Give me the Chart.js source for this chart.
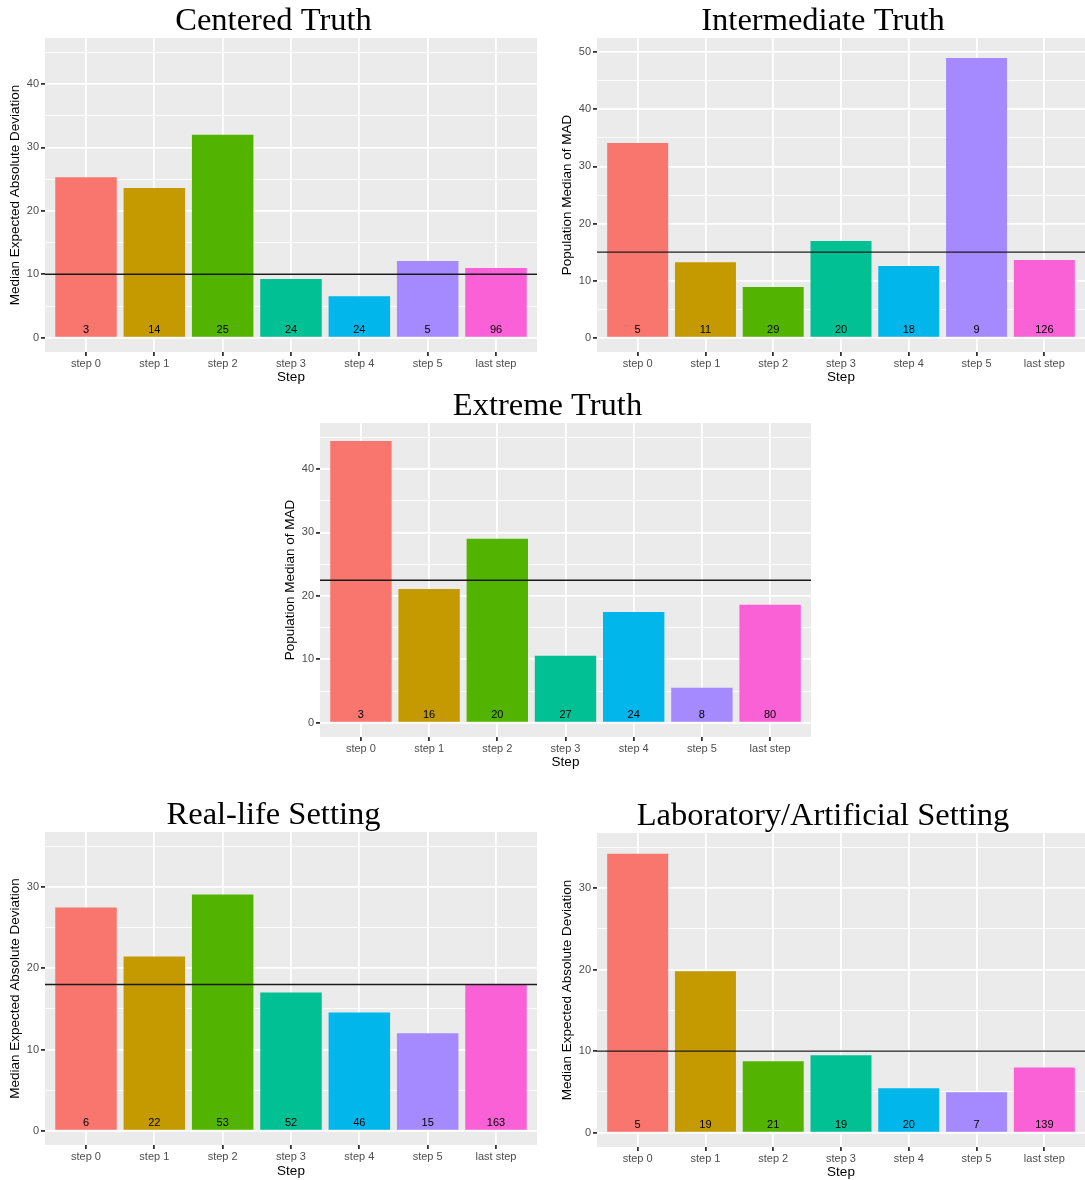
<!DOCTYPE html>
<html lang="en">
<head>
  <meta charset="UTF-8" />
  <title>Median absolute deviation by step</title>
  <script src="https://cdn.jsdelivr.net/npm/chart.js"></script>
  <style>
    body {
      margin: 0;
      width: 1085px;
      height: 1180px;
      overflow: hidden;
      background: #fff;
      position: relative;
    }
    .panel { position: absolute; }
  </style>
</head>
<body>
  <div class="panel" style="left:0px;top:0px"><canvas id="centered" width="540" height="390"></canvas></div>
  <div class="panel" style="left:551px;top:0px"><canvas id="intermediate" width="545" height="390"></canvas></div>
  <div class="panel" style="left:274px;top:385px"><canvas id="extreme" width="545" height="390"></canvas></div>
  <div class="panel" style="left:0px;top:794px"><canvas id="reallife" width="540" height="390"></canvas></div>
  <div class="panel" style="left:551px;top:795px"><canvas id="lab" width="545" height="390"></canvas></div>

  <script>
    // categories and colours (ggplot default hue palette)
    const steps = ['step 0', 'step 1', 'step 2', 'step 3', 'step 4', 'step 5', 'last step'];
    const stepColors = ['#F8766D', '#C49A00', '#53B400', '#00C094', '#00B6EB', '#A58AFF', '#FB61D7'];

    // bar heights, counts printed in the bars, and the horizontal reference line
    const centeredValues = [25.3, 23.6, 32.0, 9.25, 6.55, 12.1, 11.0];
    const centeredCounts = [3, 14, 25, 24, 24, 5, 96];
    const centeredRef = 10;

    const intermediateValues = [34.1, 13.2, 8.9, 16.95, 12.55, 49.0, 13.6];
    const intermediateCounts = [5, 11, 29, 20, 18, 9, 126];
    const intermediateRef = 15;

    const extremeValues = [44.4, 21.1, 29.0, 10.55, 17.45, 5.5, 18.6];
    const extremeCounts = [3, 16, 20, 27, 24, 8, 80];
    const extremeRef = 22.45;

    const realLifeValues = [27.45, 21.45, 29.05, 17.0, 14.55, 12.0, 17.95];
    const realLifeCounts = [6, 22, 53, 52, 46, 15, 163];
    const realLifeRef = 18;

    const labValues = [34.2, 19.8, 8.75, 9.5, 5.45, 4.95, 8.0];
    const labCounts = [5, 19, 21, 19, 20, 7, 139];
    const labRef = 10;

    const sans = 'Liberation Sans, Arial, sans-serif';

    // grey panel background like theme_gray
    const panelBackground = {
      id: 'panelBackground',
      beforeDraw(chart) {
        const { ctx, chartArea: a } = chart;
        ctx.save();
        ctx.fillStyle = '#EBEBEB';
        ctx.fillRect(a.left, a.top, a.right - a.left, a.bottom - a.top);
        ctx.restore();
      }
    };

    // counts written at the foot of each bar
    function countLabels(counts) {
      return {
        id: 'countLabels',
        afterDatasetsDraw(chart) {
          const { ctx, scales: { x, y } } = chart;
          ctx.save();
          ctx.font = '11px ' + sans;
          ctx.fillStyle = '#000';
          ctx.textAlign = 'center';
          ctx.textBaseline = 'alphabetic';
          counts.forEach((n, i) => {
            ctx.fillText(String(n), x.getPixelForValue(i + 1), y.getPixelForValue(0) - 4.5);
          });
          ctx.restore();
        }
      };
    }

    function makePanel(canvasId, p) {
      const yTicks = [];
      for (let v = 0; v <= p.yTop; v += 5) yTicks.push(v);
      const padLeft = 10;
      const yWidth = p.chartLeft - padLeft;

      return new Chart(document.getElementById(canvasId), {
        type: 'bar',
        data: {
          datasets: [
            {
              type: 'line',
              data: [{ x: 0.4, y: p.ref }, { x: 7.6, y: p.ref }],
              borderColor: '#1a1a1a',
              borderWidth: 1.4,
              pointRadius: 0,
              order: 0
            },
            {
              type: 'bar',
              data: p.values.map((v, i) => ({ x: i + 1, y: v })),
              backgroundColor: stepColors,
              barPercentage: 0.9,
              categoryPercentage: 1,
              order: 1
            }
          ]
        },
        options: {
          responsive: false,
          animation: false,
          layout: { padding: { left: padLeft, right: p.padRight } },
          plugins: {
            legend: { display: false },
            tooltip: { enabled: false },
            title: {
              display: true,
              text: p.title,
              color: '#000',
              font: { family: 'Liberation Serif, serif', size: 32.5, weight: 'normal', lineHeight: 1 },
              padding: { top: 5, bottom: 0.5 }
            }
          },
          scales: {
            x: {
              type: 'linear',
              min: 0.4,
              max: 7.6,
              offset: false,
              afterBuildTicks: s => { s.ticks = steps.map((_, i) => ({ value: i + 1 })); },
              afterFit: s => { s.height = p.xHeight; },
              ticks: {
                callback: v => steps[v - 1],
                color: '#4D4D4D',
                font: { family: sans, size: 11 },
                padding: 1,
                maxRotation: 0,
                autoSkip: false
              },
              grid: { color: '#fff', lineWidth: 1.8, tickColor: '#333', tickLength: 4, offset: false },
              border: { display: false },
              title: {
                display: true,
                text: 'Step',
                color: '#000',
                font: { family: sans, size: 13.5 },
                padding: { top: 0, bottom: 4.5 }
              }
            },
            y: {
              min: p.yMin,
              max: p.yMax,
              afterBuildTicks: s => { s.ticks = yTicks.map(v => ({ value: v })); },
              afterFit: s => { s.width = yWidth; },
              ticks: {
                callback: v => (v % 10 === 0 ? String(v) : ''),
                color: '#4D4D4D',
                font: { family: sans, size: 11 },
                padding: 2,
                autoSkip: false
              },
              grid: {
                color: '#fff',
                lineWidth: c => (c.tick && c.tick.value % 10 === 0 ? 1.8 : 0.9),
                tickColor: c => (c.tick && c.tick.value % 10 === 0 ? '#333' : 'rgba(0,0,0,0)'),
                tickLength: 4
              },
              border: { display: false },
              title: {
                display: true,
                text: p.yTitle,
                color: '#000',
                font: { family: sans, size: 13.5 },
                padding: { top: yWidth - 30 - 8.1, bottom: 0 }
              }
            }
          }
        },
        plugins: [panelBackground, countLabels(p.counts)]
      });
    }

    makePanel('centered', {
      title: 'Centered Truth', yTitle: 'Median Expected Absolute Deviation',
      values: centeredValues, counts: centeredCounts, ref: centeredRef,
      yMin: -2.25, yMax: 47.25, yTop: 45, chartLeft: 45, xHeight: 38, padRight: 3
    });
    makePanel('intermediate', {
      title: 'Intermediate Truth', yTitle: 'Population Median of MAD',
      values: intermediateValues, counts: intermediateCounts, ref: intermediateRef,
      yMin: -2.5, yMax: 52.5, yTop: 50, chartLeft: 46, xHeight: 38, padRight: 11
    });
    makePanel('extreme', {
      title: 'Extreme Truth', yTitle: 'Population Median of MAD',
      values: extremeValues, counts: extremeCounts, ref: extremeRef,
      yMin: -2.25, yMax: 47.25, yTop: 45, chartLeft: 46, xHeight: 38, padRight: 8
    });
    makePanel('reallife', {
      title: 'Real-life Setting', yTitle: 'Median Expected Absolute Deviation',
      values: realLifeValues, counts: realLifeCounts, ref: realLifeRef,
      yMin: -1.75, yMax: 36.75, yTop: 35, chartLeft: 45, xHeight: 39, padRight: 3
    });
    makePanel('lab', {
      title: 'Laboratory/Artificial Setting', yTitle: 'Median Expected Absolute Deviation',
      values: labValues, counts: labCounts, ref: labRef,
      yMin: -1.75, yMax: 36.75, yTop: 35, chartLeft: 46, xHeight: 38, padRight: 11
    });
  </script>
</body>
</html>
